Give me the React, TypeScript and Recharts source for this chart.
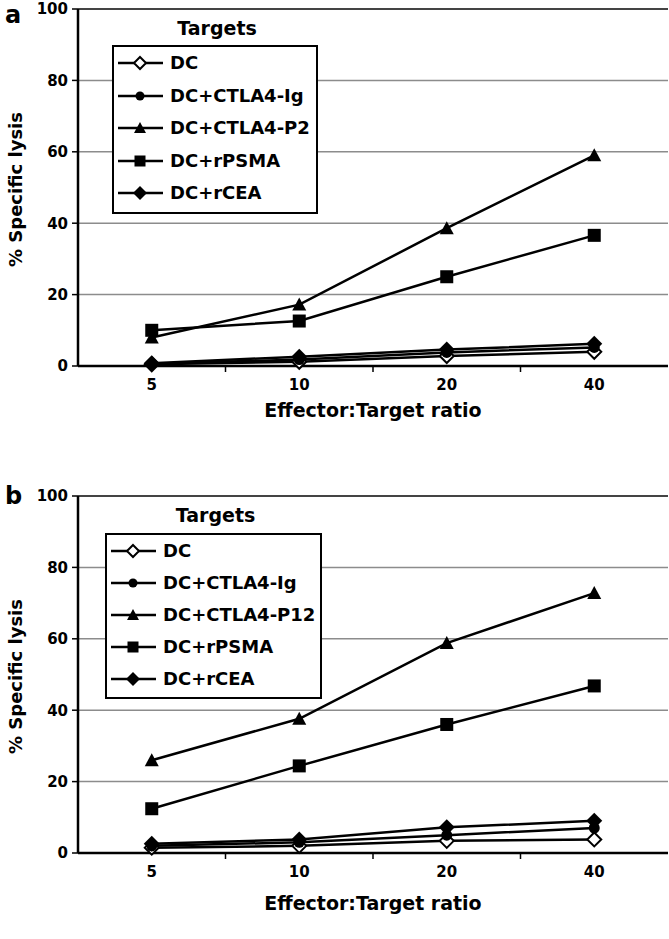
import { LineChart, Line, XAxis, YAxis, CartesianGrid, ReferenceLine, Legend } from 'recharts'

const ratios = ['5', '10', '20', '40']
const yTicks = [0, 20, 40, 60, 80, 100]

const namesA = ['DC', 'DC+CTLA4-Ig', 'DC+CTLA4-P2', 'DC+rPSMA', 'DC+rCEA']
const namesB = ['DC', 'DC+CTLA4-Ig', 'DC+CTLA4-P12', 'DC+rPSMA', 'DC+rCEA']
const markerKinds = ['openDiamond', 'circle', 'triangle', 'square', 'diamond']

// panel a
const aDC = [0.5, 1.2, 2.8, 4.0]
const aIg = [0.6, 1.8, 3.8, 5.2]
const aP2 = [8.0, 17.2, 38.6, 59.0]
const aPSMA = [10.0, 12.6, 25.0, 36.6]
const aCEA = [0.8, 2.6, 4.6, 6.2]

// panel b
const bDC = [1.5, 2.0, 3.4, 3.8]
const bIg = [2.0, 3.0, 5.0, 7.0]
const bP12 = [26.0, 37.6, 58.8, 72.8]
const bPSMA = [12.4, 24.4, 36.0, 46.8]
const bCEA = [2.6, 3.8, 7.2, 9.0]

const keys = ['s0', 's1', 's2', 's3', 's4']
const FONT = '"DejaVu Sans", sans-serif'
const PLOT_W = 590
const step = PLOT_W / ratios.length

function buildRows(series: number[][]) {
  return ratios.map((r, i) => {
    const row: any = { ratio: r }
    series.forEach((s, j) => { row[keys[j]] = s[i] })
    return row
  })
}

function Mark({ cx, cy, kind, r = 7 }: { cx: number; cy: number; kind: string; r?: number }) {
  if (cx == null || cy == null) return null
  switch (kind) {
    case 'openDiamond':
      return <path d={`M${cx},${cy - r}L${cx + r},${cy}L${cx},${cy + r}L${cx - r},${cy}Z`} fill="#fff" stroke="#000" strokeWidth={2} />
    case 'diamond':
      return <path d={`M${cx},${cy - r - 1}L${cx + r + 1},${cy}L${cx},${cy + r + 1}L${cx - r - 1},${cy}Z`} fill="#000" />
    case 'circle':
      return <circle cx={cx} cy={cy} r={r - 1.5} fill="#000" />
    case 'triangle':
      return <path d={`M${cx},${cy - r}L${cx + r},${cy + r - 1}L${cx - r},${cy + r - 1}Z`} fill="#000" />
    default:
      return <rect x={cx - r + 0.5} y={cy - r + 0.5} width={2 * r - 1} height={2 * r - 1} fill="#000" />
  }
}

function XTick({ x, y, payload, index }: any) {
  return (
    <g>
      <text x={x} y={y + 19} textAnchor="middle" dominantBaseline="central" fontFamily={FONT} fontWeight="bold" fontSize={15} fill="#000">
        {payload.value}
      </text>
      {index > 0 && <line x1={x - step / 2} x2={x - step / 2} y1={y} y2={y + 6} stroke="#000" strokeWidth={1.5} />}
    </g>
  )
}

function LegendBox({ names, lg }: { names: string[]; lg: any }) {
  return (
    <div style={{ fontFamily: FONT, fontWeight: 'bold', color: '#000', width: lg.width }}>
      <div style={{ textAlign: 'center', fontSize: 19, height: lg.titleH, lineHeight: lg.titleH + 'px', paddingLeft: 4 }}>Targets</div>
      <div style={{ border: '2px solid #000', background: '#fff', padding: '0 0 2px 3px' }}>
        {names.map((n, i) => (
          <div key={n} style={{ display: 'flex', alignItems: 'center', height: lg.rowH }}>
            <svg width={48} height={20} style={{ display: 'block' }}>
              <line x1={1} x2={46} y1={10} y2={10} stroke="#000" strokeWidth={2.5} />
              <Mark cx={23} cy={10} kind={markerKinds[i]} r={6} />
            </svg>
            <span style={{ fontSize: 18, marginLeft: 5, lineHeight: 1 }}>{n}</span>
          </div>
        ))}
      </div>
    </div>
  )
}

function Panel({ letter, letterTop, names, series, top, height, marginTop, titleDy, lg }: any) {
  const rows = buildRows(series)
  return (
    <div style={{ position: 'absolute', left: 0, top, width: 669, height }}>
      <LineChart width={669} height={height} data={rows} margin={{ top: marginTop, right: 1, bottom: 0, left: 0 }}>
        <CartesianGrid vertical={false} stroke="#8c8c8c" strokeWidth={1.5} />
        <XAxis
          dataKey="ratio"
          height={height - marginTop - 357}
          padding={{ left: step / 2, right: step / 2 }}
          tickLine={false}
          tickSize={0}
          tickMargin={0}
          axisLine={{ stroke: '#000', strokeWidth: 2.5 }}
          tick={<XTick />}
          label={({ viewBox }: any) => (
            <text x={viewBox.x + viewBox.width / 2} y={viewBox.y + titleDy} textAnchor="middle" fontFamily={FONT} fontWeight="bold" fontSize={19} fill="#000">
              Effector:Target ratio
            </text>
          )}
        />
        <YAxis
          width={78}
          domain={[0, 100]}
          ticks={yTicks}
          interval={0}
          tickSize={6}
          tickMargin={4}
          tickLine={{ stroke: '#000', strokeWidth: 1.5 }}
          axisLine={{ stroke: '#000', strokeWidth: 2.5 }}
          tick={{ fontFamily: FONT, fontWeight: 'bold', fontSize: 15, fill: '#000' }}
          label={({ viewBox }: any) => {
            const cx = 15
            const cy = viewBox.y + viewBox.height / 2 + 2
            return (
              <text x={cx} y={cy} transform={`rotate(-90 ${cx} ${cy})`} textAnchor="middle" dominantBaseline="central" fontFamily={FONT} fontWeight="bold" fontSize={18} fill="#000">
                % Specific lysis
              </text>
            )
          }}
        />
        <YAxis yAxisId="frame" orientation="right" width={0} domain={[0, 100]} tick={false} tickLine={false} axisLine={{ stroke: '#444', strokeWidth: 2 }} />
        <ReferenceLine y={100} stroke="#444" strokeWidth={2} />
        {keys.map((k, i) => (
          <Line
            key={k}
            dataKey={k}
            name={names[i]}
            type="linear"
            stroke="#000"
            strokeWidth={2.5}
            isAnimationActive={false}
            activeDot={false}
            dot={(p: any) => <Mark key={`${k}-${p.index}`} cx={p.cx} cy={p.cy} kind={markerKinds[i]} />}
          />
        ))}
        <Legend
          layout="horizontal"
          verticalAlign="middle"
          align="center"
          wrapperStyle={{ left: lg.left, top: lg.top, width: lg.width }}
          content={() => <LegendBox names={names} lg={lg} />}
        />
      </LineChart>
      <div style={{ position: 'absolute', left: 5, top: letterTop, fontFamily: FONT, fontWeight: 'bold', fontSize: 24, lineHeight: '28px' }}>{letter}</div>
    </div>
  )
}

export default function App() {
  return (
    <div style={{ position: 'absolute', left: 0, top: 0, width: 669, height: 939, background: '#fff' }}>
      <Panel
        letter="a"
        letterTop={1}
        names={namesA}
        series={[aDC, aIg, aP2, aPSMA, aCEA]}
        top={0}
        height={440}
        marginTop={9}
        titleDy={51}
        lg={{ left: 112, top: 12, width: 206, titleH: 33, rowH: 32.5 }}
      />
      <Panel
        letter="b"
        letterTop={22}
        names={namesB}
        series={[bDC, bIg, bP12, bPSMA, bCEA]}
        top={460}
        height={479}
        marginTop={36}
        titleDy={57}
        lg={{ left: 105, top: 38, width: 217, titleH: 35, rowH: 32 }}
      />
    </div>
  )
}
